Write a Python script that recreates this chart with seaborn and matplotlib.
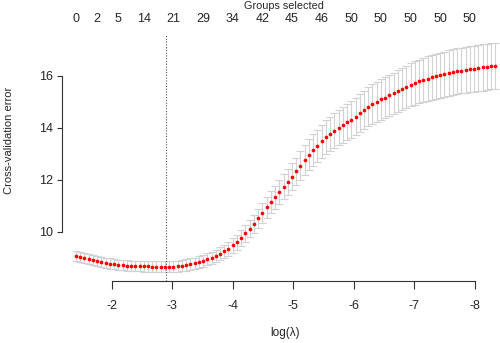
import matplotlib
matplotlib.use("Agg")
import matplotlib.pyplot as plt
import seaborn as sns
import pandas as pd

# ---------------- data ----------------
log_lambda = [
    -1.41, -1.48, -1.55, -1.62, -1.69, -1.76, -1.83, -1.90, -1.97, -2.04,
    -2.11, -2.18, -2.25, -2.32, -2.39, -2.46, -2.53, -2.60, -2.67, -2.74,
    -2.81, -2.88, -2.95, -3.02, -3.09, -3.16, -3.23, -3.30, -3.37, -3.44,
    -3.51, -3.58, -3.65, -3.72, -3.79, -3.86, -3.93, -4.00, -4.07, -4.14,
    -4.21, -4.28, -4.35, -4.42, -4.49, -4.56, -4.63, -4.70, -4.77, -4.84,
    -4.91, -4.98, -5.05, -5.12, -5.19, -5.26, -5.33, -5.40, -5.47, -5.54,
    -5.61, -5.68, -5.75, -5.82, -5.89, -5.96, -6.03, -6.10, -6.17, -6.24,
    -6.31, -6.38, -6.45, -6.52, -6.59, -6.66, -6.73, -6.80, -6.87, -6.94,
    -7.01, -7.08, -7.15, -7.22, -7.29, -7.36, -7.43, -7.50, -7.57, -7.64,
    -7.71, -7.78, -7.85, -7.92, -7.99, -8.06, -8.13, -8.20, -8.27, -8.34,
]

cv_error = [
    9.08, 9.04, 9.00, 8.96, 8.92, 8.88, 8.84, 8.80, 8.77, 8.75,
    8.73, 8.71, 8.70, 8.69, 8.685, 8.68, 8.67, 8.665, 8.66, 8.655,
    8.65, 8.65, 8.655, 8.66, 8.67, 8.69, 8.72, 8.75, 8.78, 8.82,
    8.88, 8.94, 9.00, 9.07, 9.15, 9.24, 9.34, 9.47, 9.60, 9.76,
    9.94, 10.11, 10.31, 10.52, 10.73, 10.94, 11.14, 11.33, 11.53, 11.73,
    11.92, 12.12, 12.32, 12.54, 12.76, 12.96, 13.14, 13.31, 13.47, 13.63,
    13.77, 13.89, 14.00, 14.11, 14.21, 14.31, 14.43, 14.56, 14.69, 14.81,
    14.91, 15.00, 15.09, 15.16, 15.24, 15.32, 15.40, 15.48, 15.57, 15.65,
    15.72, 15.78, 15.84, 15.89, 15.94, 15.98, 16.02, 16.06, 16.10, 16.14,
    16.17, 16.20, 16.23, 16.25, 16.27, 16.30, 16.32, 16.34, 16.36, 16.37,
]

cv_se = [
    0.19, 0.19, 0.19, 0.19, 0.19, 0.19, 0.19, 0.20, 0.20, 0.20,
    0.20, 0.20, 0.20, 0.20, 0.20, 0.20, 0.21, 0.21, 0.21, 0.21,
    0.21, 0.21, 0.21, 0.21, 0.21, 0.21, 0.22, 0.22, 0.22, 0.23,
    0.23, 0.23, 0.23, 0.24, 0.25, 0.25, 0.26, 0.27, 0.29, 0.30,
    0.32, 0.33, 0.35, 0.37, 0.39, 0.41, 0.42, 0.44, 0.46, 0.48,
    0.49, 0.51, 0.53, 0.55, 0.57, 0.59, 0.60, 0.62, 0.63, 0.65,
    0.66, 0.67, 0.68, 0.69, 0.70, 0.71, 0.72, 0.73, 0.74, 0.75,
    0.76, 0.77, 0.78, 0.79, 0.79, 0.80, 0.81, 0.81, 0.82, 0.83,
    0.84, 0.84, 0.85, 0.85, 0.86, 0.86, 0.86, 0.87, 0.87, 0.87,
    0.88, 0.88, 0.88, 0.88, 0.89, 0.89, 0.89, 0.89, 0.89, 0.90,
]

groups_pos = [-1.41, -1.76, -2.11, -2.53, -3.02, -3.51, -4.00, -4.49,
              -4.98, -5.47, -5.96, -6.45, -6.94, -7.43, -7.92]
groups_labels = ["0", "2", "5", "14", "21", "29", "34", "42",
                 "45", "46", "50", "50", "50", "50", "50"]

x_ticks = [-2, -3, -4, -5, -6, -7, -8]
y_ticks = [10, 12, 14, 16]
lambda_min_log = -2.89

df = pd.DataFrame({"loglam": log_lambda, "cve": cv_error, "se": cv_se})

# ---------------- figure ----------------
sns.set_style("white")
plt.rcParams["font.family"] = ["Liberation Sans", "DejaVu Sans"]
plt.rcParams["font.size"] = 8

W, H = 500, 343
fig = plt.figure(figsize=(W / 100, H / 100), dpi=100)
left_px, right_px, top_px, bot_px = 61.7, 500, 34.5, 281
ax = fig.add_axes([left_px / W, (H - bot_px) / H,
                   (right_px - left_px) / W, (bot_px - top_px) / H])

ax.errorbar(df["loglam"], df["cve"], yerr=df["se"], fmt="none",
            ecolor="#d2d2d2", elinewidth=0.8, capsize=2.7, capthick=0.8,
            zorder=1)
sns.scatterplot(data=df, x="loglam", y="cve", ax=ax, color="#ff0000",
                s=7, linewidth=0, zorder=3, legend=False)
ax.axvline(lambda_min_log, color="#555555", lw=0.8,
           linestyle=(0, (1, 1.5)), zorder=2)

ax.set_xlim(-1.174, -8.418)
ax.set_ylim(8.104, 17.585)

ax.set_xticks(x_ticks)
ax.set_xticklabels([str(t) for t in x_ticks])
ax.set_yticks(y_ticks)
ax.set_yticklabels([str(t) for t in y_ticks])
ax.set_xlabel("")
ax.set_ylabel("")

for s in ["top", "right"]:
    ax.spines[s].set_visible(False)
for s in ["left", "bottom"]:
    ax.spines[s].set_color("#333333")
    ax.spines[s].set_linewidth(0.8)
ax.spines["left"].set_bounds(10, 16)
ax.spines["bottom"].set_bounds(-2, -8)

ax.tick_params(axis="x", direction="out", length=5.8, width=0.8,
               color="#333333", pad=7.6, labelsize=9, bottom=True)
ax.tick_params(axis="y", direction="out", length=3.6, width=0.8,
               color="#333333", pad=2.6, labelsize=9, left=True)

# top axis: groups selected
top = ax.twiny()
top.set_xlim(ax.get_xlim())
top.set_xticks(groups_pos)
top.set_xticklabels(groups_labels)
top.tick_params(axis="x", length=0, pad=7.0, labelsize=9, top=True)
for s in top.spines.values():
    s.set_visible(False)

fig.text(284 / W, 1 - 6 / H, "Groups selected", ha="center", va="center",
         fontsize=7.8)
fig.text(285 / W, 1 - 333 / H, "log(λ)", ha="center", va="center",
         fontsize=8.5)
fig.text(9 / W, 1 - 140 / H, "Cross-validation error", ha="center",
         va="center", rotation=90, fontsize=8)

fig.savefig("out.png", dpi=100)
